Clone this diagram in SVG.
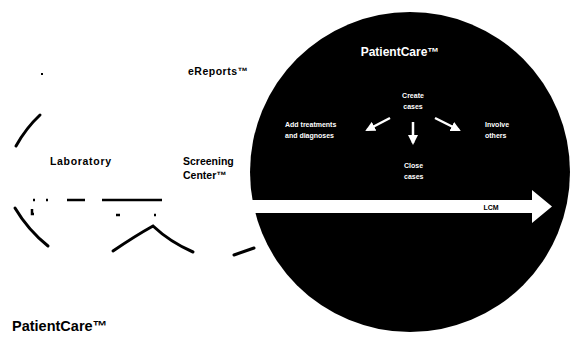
<svg xmlns="http://www.w3.org/2000/svg" width="572" height="339" viewBox="0 0 572 339">
<defs>
<style>
.t{font-family:"Liberation Sans",Arial,sans-serif;font-weight:bold;fill:#000}
.w{font-family:"Liberation Sans",Arial,sans-serif;font-weight:bold;fill:#fff}
.frag{fill:none;stroke:#000;stroke-width:3;stroke-linecap:round}
.dash{fill:none;stroke:#000;stroke-width:2.5}
.wl{fill:none;stroke:#fff;stroke-width:2.5}
</style>
<marker id="ah" viewBox="0 0 10 10" refX="8" refY="5" markerWidth="4" markerHeight="4" orient="auto-start-reverse">
<path d="M0,0 L10,5 L0,10 z" fill="#fff"/>
</marker>
</defs>
<rect width="572" height="339" fill="#fff"/>

<g id="left-circles">
<path class="frag" d="M16,146 Q26,128 40,115"/>
<path class="frag" d="M15,208 Q28,230 48,246"/>
<path class="frag" d="M113,251 Q135,236 153,226 Q170,242 193,252"/>
<path class="frag" d="M234,255 L254,248"/>
<rect x="41" y="73" width="2" height="2" fill="#000"/>
<path class="dash" d="M33,200h2M46,200h2M67,200h18M102,200h60"/>
<path class="dash" d="M32,209v5h2M116,215h4M154,215h2"/>
</g>

<g id="laboratory"><text class="t" x="50" y="165" font-size="10.5" textLength="61">Laboratory</text></g>
<g id="ereports"><text class="t" x="188" y="75" font-size="10.5" textLength="60">eReports™</text></g>
<g id="screening"><text class="t" x="183" y="165" font-size="10.5">Screening</text><text class="t" x="183" y="179" font-size="10.5">Center™</text></g>

<g id="patientcare">
<circle cx="410" cy="172" r="160" fill="#000"/>
<text class="w" x="400" y="56" font-size="12" text-anchor="middle">PatientCare™</text>
</g>

<g id="timeline">
<path d="M252,200 H532 V190 L552,206.5 L532,223 V213 H252 Z" fill="#fff"/>
<text class="t" x="491" y="210" font-size="7" text-anchor="middle">LCM</text>
</g>

<g id="create"><text class="w" x="413" y="98" font-size="7" text-anchor="middle">Create</text><text class="w" x="413" y="109" font-size="7" text-anchor="middle">cases</text></g>
<g id="add"><text class="w" x="285" y="127" font-size="7">Add treatments</text><text class="w" x="285" y="138" font-size="7">and diagnoses</text></g>
<g id="involve"><text class="w" x="485" y="127" font-size="7">Involve</text><text class="w" x="485" y="138" font-size="7">others</text></g>
<g id="close"><text class="w" x="404" y="168" font-size="7">Close</text><text class="w" x="404" y="179" font-size="7">cases</text></g>

<g id="connectors">
<path class="wl" d="M390,118 L367,130" marker-end="url(#ah)"/>
<path class="wl" d="M413,122 L413,143" marker-end="url(#ah)"/>
<path class="wl" d="M435,118 L459,130" marker-end="url(#ah)"/>
</g>

<g id="title"><text class="t" x="12" y="331" font-size="14.5">PatientCare™</text></g>
</svg>
